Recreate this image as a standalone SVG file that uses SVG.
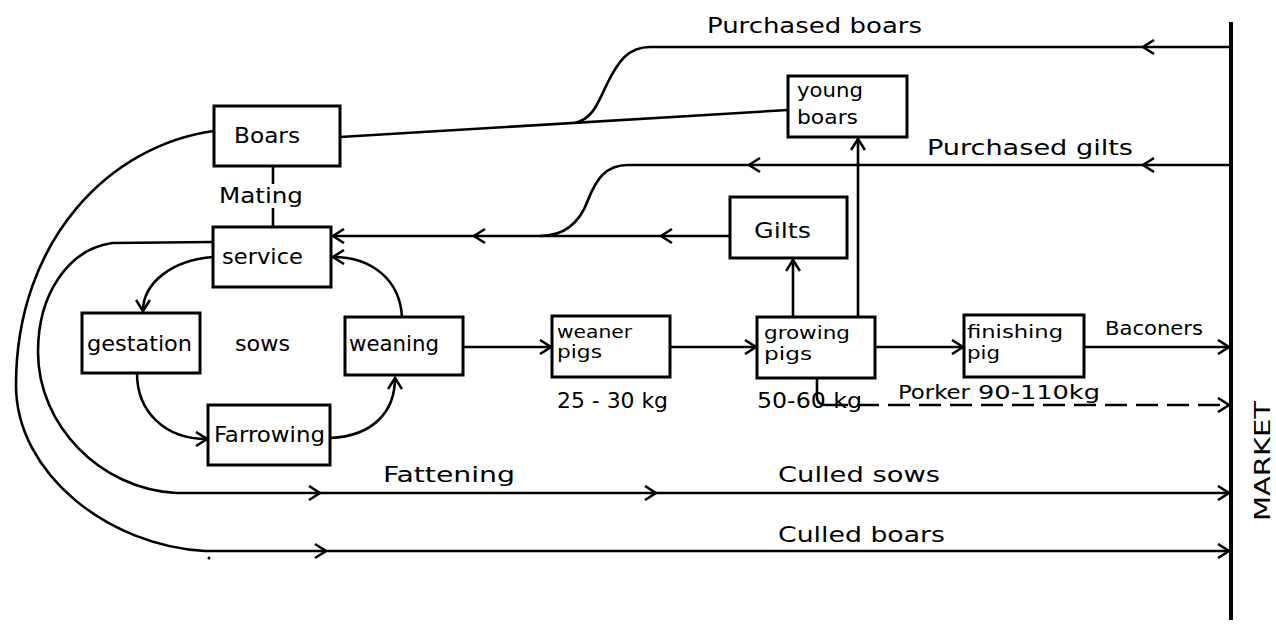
<svg xmlns="http://www.w3.org/2000/svg" xmlns:xlink="http://www.w3.org/1999/xlink" width="1276" height="625" viewBox="0 0 1276 625">
<style>
  .box { fill: #fff; stroke: #000; stroke-width: 3; }
  .ln { fill: none; stroke: #000; stroke-width: 2.6; }
  .t { font-family: "DejaVu Sans Condensed", "DejaVu Sans", "Liberation Sans", sans-serif; font-size: 22px; fill: #000; }
  .s { font-size: 17px; }
  .m { font-size: 20px; }
</style>
<defs>
  <path id="chev" d="M-11,-7 L0,0 L-11,7" fill="none" stroke="#000" stroke-width="2.6" stroke-linejoin="miter"/>
  <marker id="arr" markerUnits="userSpaceOnUse" viewBox="-12 -8 14 16" refX="0" refY="0" markerWidth="14" markerHeight="16" orient="auto">
    <path d="M-11,-7 L0,0 L-11,7" fill="none" stroke="#000" stroke-width="2.6"/>
  </marker>
</defs>
<rect width="1276" height="625" fill="#fff"/>

<g id="connectors">
  <line x1="1231" y1="22" x2="1231" y2="620" stroke="#000" stroke-width="4"/>
  <path class="ln" d="M340,137 L788,110"/>
  <path class="ln" d="M1231,47 L650,47 C628,47 618,62 608,82 C598,102 594,118 575,123"/>
  <use xlink:href="#chev" transform="translate(1143,47) rotate(180)"/>
  <path class="ln" d="M1231,165 L628,165 C605,165 596,180 588,200 C580,222 566,236 540,236"/>
  <use xlink:href="#chev" transform="translate(1143,165) rotate(180)"/>
  <use xlink:href="#chev" transform="translate(749,165) rotate(180)"/>
  <path class="ln" d="M730,236 L333,236" marker-end="url(#arr)"/>
  <use xlink:href="#chev" transform="translate(661,236) rotate(180)"/>
  <use xlink:href="#chev" transform="translate(474,236) rotate(180)"/>
  <line class="ln" x1="273" y1="166" x2="273" y2="184"/>
  <line class="ln" x1="273" y1="208" x2="273" y2="227"/>
  <path class="ln" d="M213,257 C172,260 143,283 143,311" marker-end="url(#arr)"/>
  <path class="ln" d="M137,373 C137,412 165,439 207,439" marker-end="url(#arr)"/>
  <path class="ln" d="M330,438 C375,436 395,410 395,378" marker-end="url(#arr)"/>
  <path class="ln" d="M402,317 C400,280 372,257 333,257" marker-end="url(#arr)"/>
  <path class="ln" d="M463,347 L551,347" marker-end="url(#arr)"/>
  <path class="ln" d="M670,347 L756,347" marker-end="url(#arr)"/>
  <path class="ln" d="M875,347 L963,347" marker-end="url(#arr)"/>
  <path class="ln" d="M1084,347 L1229,347" marker-end="url(#arr)"/>
  <path class="ln" d="M793,317 L793,260" marker-end="url(#arr)"/>
  <path class="ln" d="M858,317 L858,139" marker-end="url(#arr)"/>
  <path class="ln" d="M817,378 L817,398 Q818,405 826,405"/>
  <path class="ln" d="M826,405 L1229,405" stroke-dasharray="22,9" marker-end="url(#arr)"/>
  <path class="ln" d="M213,242 L112,243 C70,249 38,292 38,352 C38,425 100,489 176,493 L1229,493" marker-end="url(#arr)"/>
  <use xlink:href="#chev" transform="translate(320,493)"/>
  <use xlink:href="#chev" transform="translate(656,493)"/>
  <path class="ln" d="M214,131 C110,145 16,240 16,385 C16,475 110,546 205,551 L1229,551" marker-end="url(#arr)"/>
  <use xlink:href="#chev" transform="translate(326,551)"/>
  <circle cx="209" cy="558" r="1.5" fill="#000"/>
</g>

<g id="boars"><rect class="box" x="214" y="106" width="126" height="60"/><text class="t" x="234" y="143" textLength="66" lengthAdjust="spacingAndGlyphs">Boars</text></g>
<g id="mating"><text class="t" x="219" y="203" textLength="84" lengthAdjust="spacingAndGlyphs">Mating</text></g>
<g id="service"><rect class="box" x="213" y="227" width="118" height="60"/><text class="t" x="222" y="264" textLength="81" lengthAdjust="spacingAndGlyphs">service</text></g>
<g id="gestation"><rect class="box" x="82" y="313" width="118" height="60"/><text class="t" x="87" y="351" textLength="105" lengthAdjust="spacingAndGlyphs">gestation</text></g>
<g id="sows"><text class="t" x="235" y="351" textLength="55" lengthAdjust="spacingAndGlyphs">sows</text></g>
<g id="weaning"><rect class="box" x="345" y="317" width="118" height="58"/><text class="t" x="349" y="351" textLength="90" lengthAdjust="spacingAndGlyphs">weaning</text></g>
<g id="farrowing"><rect class="box" x="208" y="405" width="122" height="60"/><text class="t" x="214" y="442" textLength="111" lengthAdjust="spacingAndGlyphs">Farrowing</text></g>
<g id="weaner-pigs"><rect class="box" x="552" y="316" width="118" height="61"/><text class="t s" x="557" y="338" textLength="75" lengthAdjust="spacingAndGlyphs">weaner</text><text class="t s" x="557" y="358" textLength="45" lengthAdjust="spacingAndGlyphs">pigs</text></g>
<g id="growing-pigs"><rect class="box" x="757" y="317" width="118" height="61"/><text class="t s" x="764" y="339" textLength="86" lengthAdjust="spacingAndGlyphs">growing</text><text class="t s" x="764" y="360" textLength="48" lengthAdjust="spacingAndGlyphs">pigs</text></g>
<g id="finishing-pig"><rect class="box" x="964" y="315" width="120" height="62"/><text class="t s" x="967" y="338" textLength="96" lengthAdjust="spacingAndGlyphs">finishing</text><text class="t s" x="967" y="359" textLength="33" lengthAdjust="spacingAndGlyphs">pig</text></g>
<g id="young-boars"><rect class="box" x="788" y="76" width="119" height="61"/><text class="t m" x="797" y="97" textLength="66" lengthAdjust="spacingAndGlyphs">young</text><text class="t m" x="797" y="124" textLength="61" lengthAdjust="spacingAndGlyphs">boars</text></g>
<g id="gilts"><rect class="box" x="730" y="197" width="117" height="61"/><text class="t" x="754" y="238" textLength="57" lengthAdjust="spacingAndGlyphs">Gilts</text></g>

<g id="labels">
  <text class="t" x="707" y="33" textLength="215" lengthAdjust="spacingAndGlyphs">Purchased  boars</text>
  <text class="t" x="927" y="155" textLength="206" lengthAdjust="spacingAndGlyphs">Purchased  gilts</text>
  <text class="t m" x="1105" y="335" textLength="98" lengthAdjust="spacingAndGlyphs">Baconers</text>
  <text class="t" x="557" y="408" textLength="111" lengthAdjust="spacingAndGlyphs">25 - 30 kg</text>
  <text class="t" x="757" y="408" textLength="105" lengthAdjust="spacingAndGlyphs">50-60  kg</text>
  <text class="t m" x="898" y="399" textLength="72" lengthAdjust="spacingAndGlyphs">Porker</text>
  <text class="t m" x="978" y="399" textLength="122" lengthAdjust="spacingAndGlyphs">90-110kg</text>
  <text class="t" x="383" y="482" textLength="132" lengthAdjust="spacingAndGlyphs">Fattening</text>
  <text class="t" x="778" y="482" textLength="162" lengthAdjust="spacingAndGlyphs">Culled  sows</text>
  <text class="t" x="778" y="542" textLength="167" lengthAdjust="spacingAndGlyphs">Culled  boars</text>
  <text class="t" transform="translate(1270,521) rotate(-90)" x="0" y="0" textLength="120" lengthAdjust="spacingAndGlyphs">MARKET</text>
</g>
</svg>
